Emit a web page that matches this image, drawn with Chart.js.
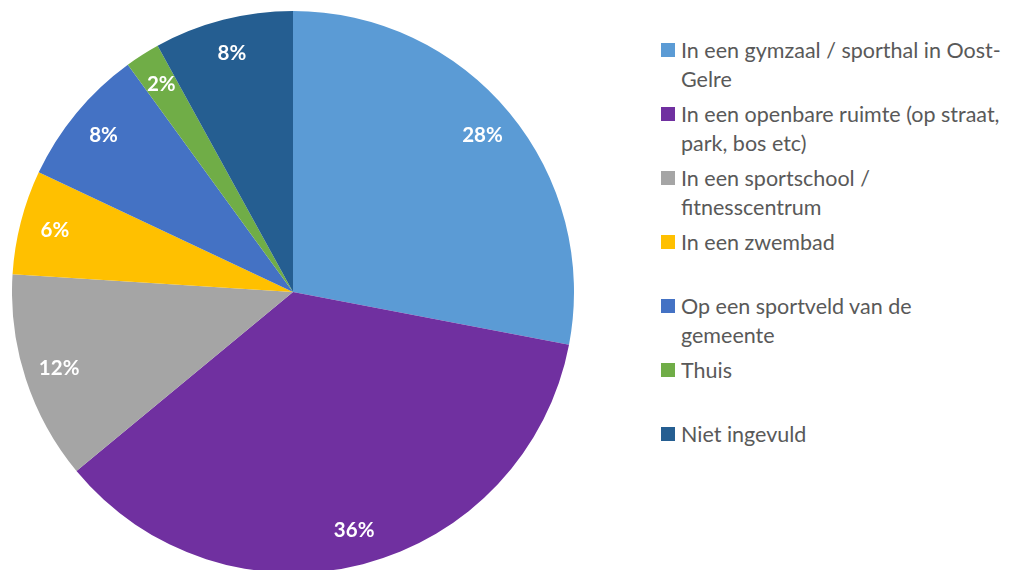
<!DOCTYPE html>
<html lang="nl">
<head>
    <meta charset="UTF-8">
    <title>Sportlocaties</title>
    <script src="https://cdn.jsdelivr.net/npm/chart.js"></script>
    <style>
        html, body { margin: 0; padding: 0; background: #fff; overflow: hidden; }
        body { width: 1029px; height: 570px; position: relative; font-family: Lato, "Open Sans", sans-serif; }
        #pie-wrap { position: absolute; left: 12px; top: 11px; width: 562px; height: 562px; }
        #legend { position: absolute; left: 661px; top: 0; }
        .item { position: absolute; left: 0; width: 370px; }
        .box { position: absolute; left: 0; width: 14px; height: 14px; }
        .text { position: absolute; left: 20px; color: #595959; font-size: 21.5px; line-height: 29px; white-space: nowrap; }
    </style>
</head>
<body>
    <div id="pie-wrap"><canvas id="myChart"></canvas></div>
    <div id="legend"></div>

    <script>
    "use strict"

    const labels = [
        ["In een gymzaal / sporthal in Oost-", "Gelre"],
        ["In een openbare ruimte (op straat,", "park, bos etc)"],
        ["In een sportschool /", "fitnesscentrum"],
        ["In een zwembad"],
        ["Op een sportveld van de", "gemeente"],
        ["Thuis"],
        ["Niet ingevuld"]
    ]
    const percentages = [28, 36, 12, 6, 8, 2, 8]
    const colors = ["#5B9BD5", "#7030A0", "#A5A5A5", "#FFC000", "#4472C4", "#70AD47", "#255E91"]

    // labels inside the slices
    const sliceLabels = {
        id: "sliceLabels",
        afterDatasetsDraw(chart) {
            const c = chart.ctx
            const meta = chart.getDatasetMeta(0)
            c.save()
            c.fillStyle = "#fff"
            c.font = "bold 20.5px Lato, sans-serif"
            c.textAlign = "center"
            c.textBaseline = "middle"
            meta.data.forEach((arc, i) => {
                const p = arc.getProps(["x", "y", "startAngle", "endAngle", "outerRadius"], true)
                const mid = (p.startAngle + p.endAngle) / 2
                const r = p.outerRadius * 0.875
                c.fillText(percentages[i] + "%", p.x + Math.cos(mid) * r, p.y + Math.sin(mid) * r)
            })
            c.restore()
        }
    }

    const ctx = document.getElementById("myChart")
    let graph = new Chart(ctx, {
        type: "pie",
        data: {
            labels: labels.map(l => l.join(" ")),
            datasets: [{
                data: percentages,
                backgroundColor: colors,
                borderWidth: 0
            }]
        },
        options: {
            responsive: true,
            maintainAspectRatio: false,
            animation: false,
            layout: { padding: 0 },
            plugins: {
                legend: { display: false },
                tooltip: { enabled: false }
            }
        },
        plugins: [sliceLabels]
    })

    // legend on the right, one slot of 64px per item
    const legend = document.getElementById("legend")
    labels.forEach((lines, i) => {
        const item = document.createElement("div")
        item.className = "item"
        item.style.top = (43 + i * 64) + "px"
        const box = document.createElement("div")
        box.className = "box"
        box.style.background = colors[i]
        const text = document.createElement("div")
        text.className = "text"
        text.style.top = "-7px"
        text.innerHTML = lines.join("<br>")
        item.appendChild(box)
        item.appendChild(text)
        legend.appendChild(item)
    })
    </script>
</body>
</html>
